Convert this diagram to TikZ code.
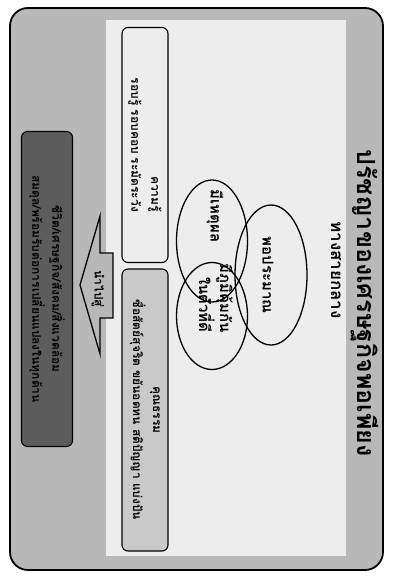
\documentclass[tikz,border=0pt]{standalone}
\usepackage{fontspec}
\newfontfamily\thaifont[Script=Thai]{Loma}
\usepackage{tikz}
\usetikzlibrary{shapes.geometric}
\definecolor{scangray}{HTML}{B8B8B8}
\definecolor{paperwhite}{HTML}{EDEDED}
\definecolor{softgray}{HTML}{C9C9C9}
\definecolor{darkgray}{HTML}{5C5C5C}
\tikzstyle{tag} = [rotate=-90, font=\thaifont\bfseries, inner sep=0pt]
\tikzstyle{ring} = [ellipse, draw, line width=1.3pt, rotate=-90, inner sep=0pt]
\tikzstyle{wbox} = [rectangle, draw, line width=1.1pt, rounded corners=6pt, rotate=-90,
font=\thaifont\bfseries\fontsize{12}{20}\selectfont, inner sep=0pt]

\begin{document}
\begin{tikzpicture}[x=1pt, y=-1pt]
    \useasboundingbox (0,0) rectangle (393,578);
    \draw [line width=1.8pt, rounded corners=18pt, fill=scangray] (10,8) rectangle (383,570);
    \fill [paperwhite] (106,20) rectangle (346,556);

	\node (Title) [tag, font=\thaifont\bfseries\fontsize{25}{27}\selectfont] at (365,303) {ปรัชญาของเศรษฐกิจพอเพียง};
	\node (Middle) [tag, font=\thaifont\bfseries\fontsize{17}{19}\selectfont] at (336,270) {ทางสายกลาง};

	\node (Modest) [ring, minimum width=140pt, minimum height=72pt] at (271,275) {};
	\node (Reason) [ring, minimum width=122pt, minimum height=71pt] at (212,241) {};
	\node (Immune) [ring, minimum width=107pt, minimum height=71pt] at (212,316) {};
	\node (ModestText) [tag, font=\thaifont\bfseries\fontsize{15}{21}\selectfont] at (268,275) {พอประมาณ};
	\node (ReasonText) [tag, font=\thaifont\bfseries\fontsize{15}{21}\selectfont] at (215,216) {มีเหตุผล};
	\node (ImmuneText) [tag, align=right, font=\thaifont\bfseries\fontsize{15}{21}\selectfont] at (216,298) {มีภูมิคุ้มกัน\\ในตัวที่ดี};

	\node (Knowledge) [wbox, fill=paperwhite, align=right, minimum width=235pt, minimum height=46pt] at (145,145) {ความรู้\\รอบรู้ รอบคอบ ระมัดระวัง};
	\node (Virtue) [wbox, fill=softgray, align=center, minimum width=282pt, minimum height=46pt] at (145,410) {คุณธรรม\\ซื่อสัตย์สุจริต ขยันอดทน สติปัญญา แบ่งปัน};

	\draw [line width=1.3pt, fill=scangray] (113,253) -- (100,253) -- (100,216) -- (80,285) -- (100,354) -- (100,318) -- (113,318) -- cycle;
	\node (Lead) [tag, font=\thaifont\bfseries\fontsize{12}{14}\selectfont] at (98,289) {นำไปสู่};

	\node (Result) [wbox, fill=darkgray, align=center, minimum width=315pt, minimum height=51pt] at (47,289) {ชีวิต/เศรษฐกิจ/สังคม/สิ่งแวดล้อม\\สมดุล/พร้อมรับต่อการเปลี่ยนแปลงในทุกด้าน};
\end{tikzpicture}
\end{document}
